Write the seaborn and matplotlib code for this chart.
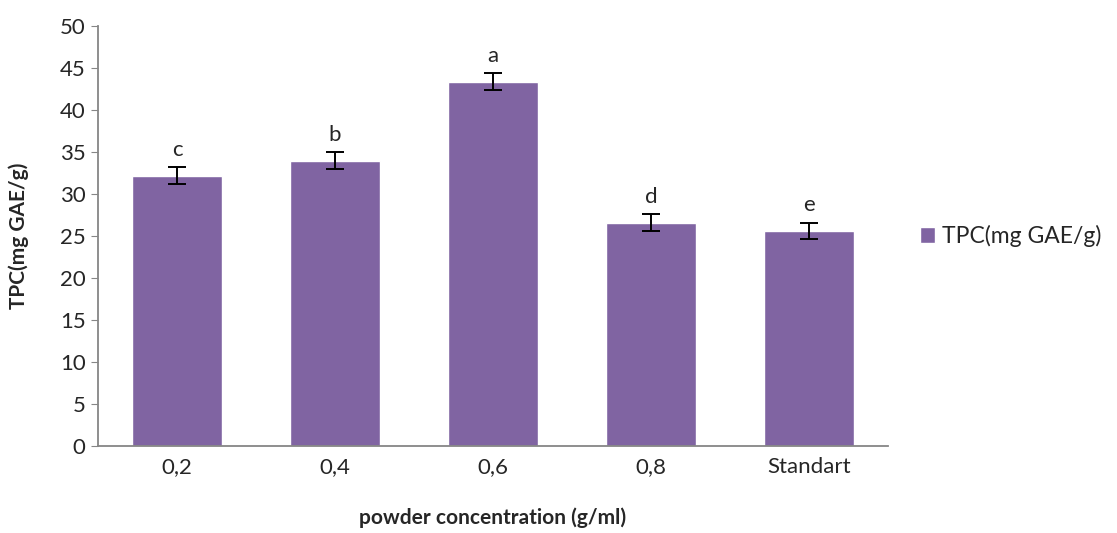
import numpy as np
import pandas as pd
import matplotlib.pyplot as plt
import seaborn as sns

# --- data ---
categories = ['0,2', '0,4', '0,6', '0,8', 'Standart']
tpc_values = [32.2, 34.0, 43.4, 26.6, 25.6]
tpc_errors = [1.0, 1.0, 1.0, 1.0, 1.0]
letters = ['c', 'b', 'a', 'd', 'e']
series_name = 'TPC(mg GAE/g)'

df = pd.DataFrame({'conc': categories, 'tpc': tpc_values})

sns.set_style('white')
plt.rcParams['font.family'] = ['Lato', 'DejaVu Sans']

fig = plt.figure(figsize=(11.17, 5.33), dpi=100)
ax = fig.add_axes([0.0877, 0.163, 0.7073, 0.788])

bar_color = '#8064A2'
sns.barplot(data=df, x='conc', y='tpc', color=bar_color, width=0.57,
            saturation=1, errorbar=None, ax=ax, label=series_name)

ax.errorbar(np.arange(len(categories)), tpc_values, yerr=tpc_errors,
            fmt='none', ecolor='black', elinewidth=1.4, capsize=6.5, capthick=1.4)

for i, (v, e, s) in enumerate(zip(tpc_values, tpc_errors, letters)):
    ax.text(i, v + e + 0.9, s, ha='center', va='bottom', fontsize=16)

ax.set_xlim(-0.5, len(categories) - 0.5)
ax.set_ylim(0, 50)
ax.set_yticks(range(0, 51, 5))
ax.tick_params(axis='y', length=5, color='#868686', labelsize=16, pad=4, left=True)
ax.tick_params(axis='x', length=0, labelsize=16, pad=8)

for side in ['top', 'right']:
    ax.spines[side].set_visible(False)
for side in ['left', 'bottom']:
    ax.spines[side].set_color('#868686')
    ax.spines[side].set_linewidth(1.3)

ax.set_xlabel('powder concentration (g/ml)', fontsize=15, fontweight='bold', labelpad=22)
ax.set_ylabel('TPC(mg GAE/g)', fontsize=15, fontweight='bold', labelpad=22)

ax.legend(loc='center left', bbox_to_anchor=(1.015, 0.5), frameon=False,
          fontsize=16.5, handlelength=0.65, handleheight=0.65, handletextpad=0.3)

fig.savefig('out.png', dpi=100)
